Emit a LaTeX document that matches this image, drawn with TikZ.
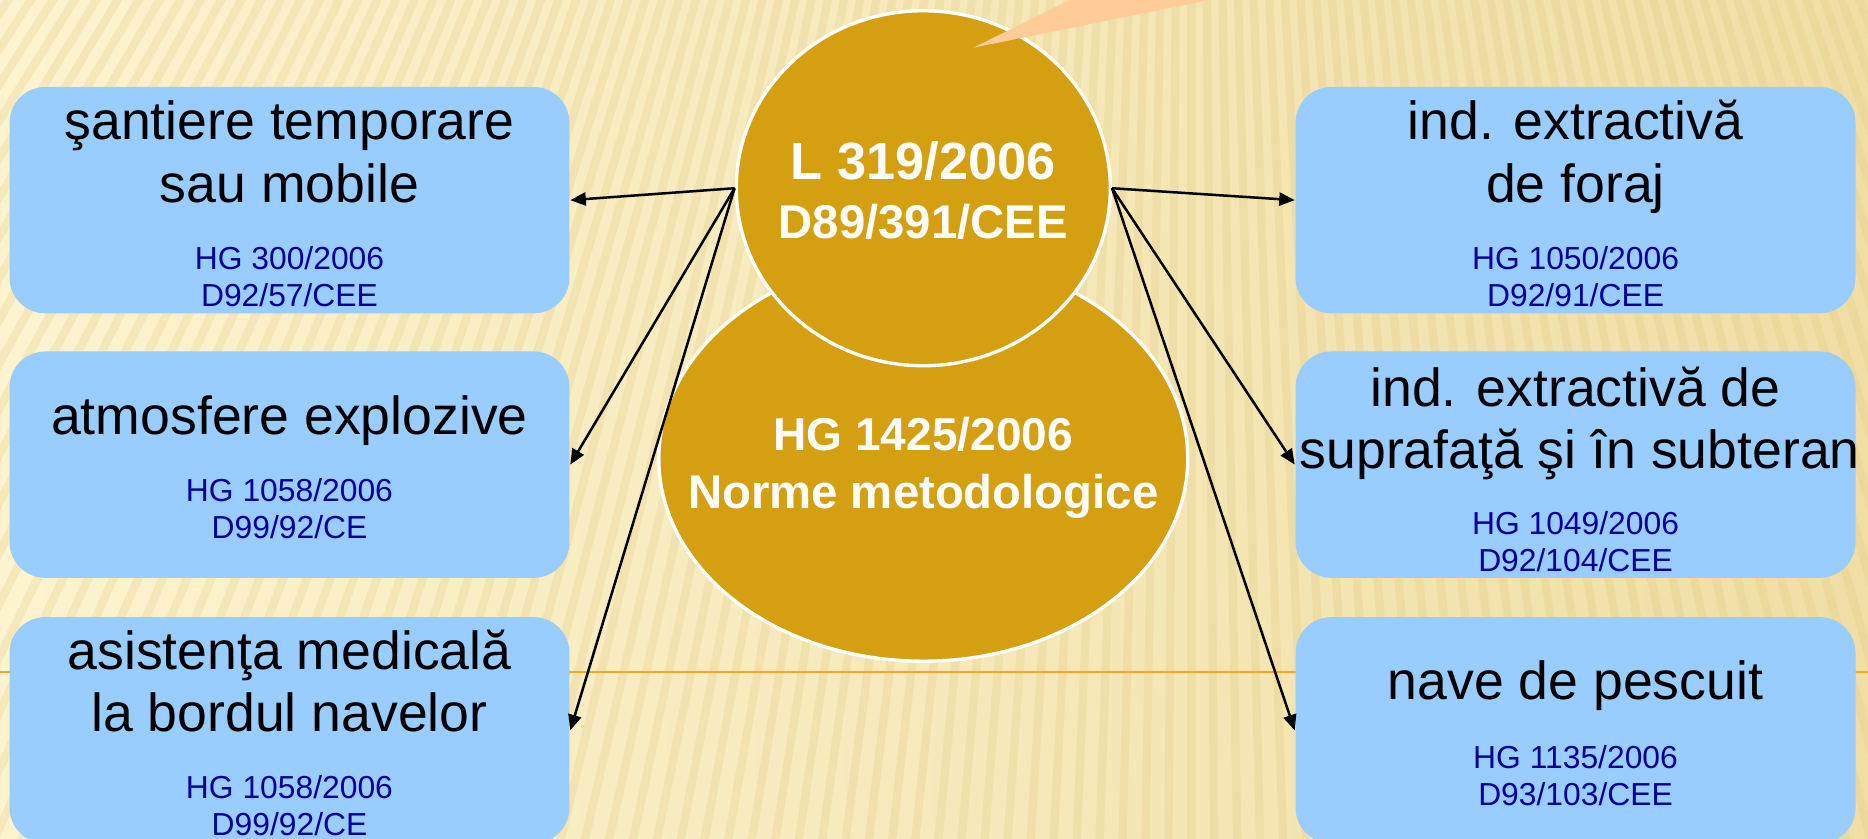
\documentclass[tikz,border=0pt]{standalone}
\usepackage{fontspec}
\setmainfont{Liberation Sans}
\usetikzlibrary{shapes.geometric,arrows.meta}
\definecolor{bgA}{RGB}{253,243,207}
\definecolor{bgB}{RGB}{240,222,165}
\definecolor{stripe}{RGB}{222,196,120}
\definecolor{boxblue}{RGB}{153,204,255}
\definecolor{gold}{RGB}{212,160,18}
\definecolor{wedge}{RGB}{255,204,153}
\definecolor{subblue}{RGB}{0,0,153}
\definecolor{orangeline}{RGB}{245,166,35}
\begin{document}
\begin{tikzpicture}[x=1cm,y=1cm,
  infobox/.style={draw=none, fill=boxblue, rounded corners=0.3cm, minimum width=4.7cm, minimum height=1.9cm, inner sep=0},
  title/.style={font=\fontsize{12.8}{14.8}\selectfont, anchor=base, inner sep=0},
  sub/.style={font=\fontsize{7.6}{8.8}\selectfont, text=subblue, anchor=base, inner sep=0},
  big/.style={draw=white, line width=0.8pt, fill=gold, ellipse, inner sep=0},
  ctext/.style={text=white, anchor=base, inner sep=0},
  conn/.style={-{Triangle[length=1.3mm,width=1.1mm]}, line width=0.6pt, black}
]
\useasboundingbox (0,0) rectangle (15.68,-7.04);
% background
\begin{scope}
\clip (0,0) rectangle (15.68,-7.04);
\shade[left color=bgA, right color=bgB] (0,0) rectangle (15.68,-7.04);
\foreach \a in {236,236.5,...,300} { \draw[stripe, opacity=0.22, line width=0.07cm] (10,15) -- ++(\a:32); }
\end{scope}
% orange line
\draw[orangeline, line width=0.6pt] (0,-5.64) -- (15.68,-5.64);
% boxes
\node[infobox] (tl) at (2.43,-1.68) {};
\node[infobox] (ml) at (2.43,-3.90) {};
\node[infobox] (bl) at (2.43,-6.13) {};
\node[infobox] (tr) at (13.225,-1.68) {};
\node[infobox] (mr) at (13.225,-3.90) {};
\node[infobox] (br) at (13.225,-6.13) {};
% ellipses
\node[big, minimum width=4.44cm, minimum height=3.40cm] (ell2) at (7.75,-3.85) {};
\node[big, minimum width=3.14cm, minimum height=2.98cm] (ell1) at (7.75,-1.58) {};
% callout wedge
\fill[wedge] (8.17,-0.40) -- (8.98,0) -- (10.15,0) -- cycle;
% connectors
\draw[conn] (ell1.west) -- (tl.east);
\draw[conn] (ell1.west) -- (ml.east);
\draw[conn] (ell1.west) -- (bl.east);
\draw[conn] (ell1.east) -- (tr.west);
\draw[conn] (ell1.east) -- (mr.west);
\draw[conn] (ell1.east) -- (br.west);
% circle texts
\node[ctext, font=\bfseries\fontsize{12.5}{14}\selectfont] (c1a) at (7.75,-1.51) {L 319/2006};
\node[ctext, font=\bfseries\fontsize{11.3}{13}\selectfont] (c1b) at (7.75,-2.00) {D89/391/CEE};
\node[ctext, font=\bfseries\fontsize{11}{13}\selectfont] (c2a) at (7.75,-3.78) {HG 1425/2006};
\node[ctext, font=\bfseries\fontsize{11.3}{13}\selectfont] (c2b) at (7.75,-4.27) {Norme metodologice};
% left box texts
\node[title] (tl1) at (2.43,-1.17) {şantiere temporare};
\node[title] (tl2) at (2.43,-1.70) {sau mobile};
\node[sub] (tl3) at (2.43,-2.26) {HG 300/2006};
\node[sub] (tl4) at (2.43,-2.57) {D92/57/CEE};
\node[title] (ml1) at (2.43,-3.65) {atmosfere explozive};
\node[sub] (ml3) at (2.43,-4.21) {HG 1058/2006};
\node[sub] (ml4) at (2.43,-4.52) {D99/92/CE};
\node[title] (bl1) at (2.43,-5.62) {asistenţa medicală};
\node[title] (bl2) at (2.43,-6.14) {la bordul navelor};
\node[sub] (bl3) at (2.43,-6.70) {HG 1058/2006};
\node[sub] (bl4) at (2.43,-7.01) {D99/92/CE};
% right box texts
\node[title] (tr1) at (13.225,-1.17) {ind. extractivă};
\node[title] (tr2) at (13.225,-1.70) {de foraj};
\node[sub] (tr3) at (13.225,-2.26) {HG 1050/2006};
\node[sub] (tr4) at (13.225,-2.57) {D92/91/CEE};
\node[title] (mr1) at (13.225,-3.41) {ind. extractivă de};
\node[title] (mr2) at (13.26,-3.93) {suprafaţă şi în subteran};
\node[sub] (mr3) at (13.225,-4.49) {HG 1049/2006};
\node[sub] (mr4) at (13.225,-4.80) {D92/104/CEE};
\node[title] (br1) at (13.225,-5.87) {nave de pescuit};
\node[sub] (br3) at (13.225,-6.45) {HG 1135/2006};
\node[sub] (br4) at (13.225,-6.76) {D93/103/CEE};
\end{tikzpicture}
\end{document}
